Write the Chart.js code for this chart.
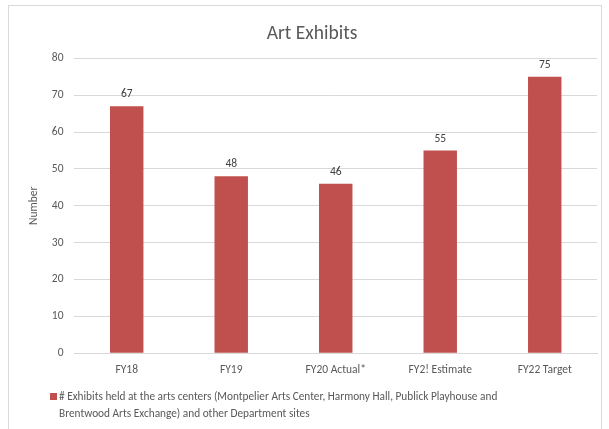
<!DOCTYPE html>
<html>
<head>
<meta charset="utf-8">
<script src="https://cdn.jsdelivr.net/npm/chart.js@4"></script>
<style>
    html, body { margin: 0; padding: 0; background: #fff; }
    #wrap { position: relative; width: 609px; height: 429px; }
    #frame { position: absolute; left: 8px; top: 5px; width: 594px; height: 440px; border: 1px solid #d9d9d9; box-sizing: border-box; }
    canvas { position: absolute; left: 0; top: 0; }
</style>
</head>
<body>
<div id="wrap">
    <div id="frame"></div>
    <canvas id="chart" width="609" height="429"></canvas>
</div>
<script>
const categories = ['FY18', 'FY19', 'FY20 Actual*', 'FY2! Estimate', 'FY22 Target'];
const exhibits = [67, 48, 46, 55, 75];
const seriesLines = [
    '# Exhibits held at the arts centers (Montpelier Arts Center, Harmony Hall, Publick Playhouse and',
    'Brentwood Arts Exchange) and other Department sites'
];

const FONT = 'Calibri, Carlito, Lato, sans-serif';
const GREY = '#595959';
const BAR = '#c0504d';

// value labels above bars
const valueLabels = {
    id: 'valueLabels',
    afterDatasetsDraw(chart) {
        const ctx = chart.ctx;
        const meta = chart.getDatasetMeta(0);
        ctx.save();
        ctx.font = '11.5px ' + FONT;
        ctx.fillStyle = '#404040';
        ctx.textAlign = 'center';
        ctx.textBaseline = 'bottom';
        meta.data.forEach((bar, i) => {
            ctx.fillText(chart.data.datasets[0].data[i], bar.x, bar.y - 6);
        });
        ctx.restore();
    }
};

// legend with wrapped text at the bottom
const wrappedLegend = {
    id: 'wrappedLegend',
    afterDraw(chart) {
        const ctx = chart.ctx;
        ctx.save();
        ctx.fillStyle = BAR;
        ctx.fillRect(50, 393, 7, 7);
        ctx.font = '11.3px ' + FONT;
        ctx.fillStyle = GREY;
        ctx.textAlign = 'left';
        ctx.textBaseline = 'middle';
        seriesLines.forEach((line, i) => {
            ctx.fillText(line, 59, 397 + i * 17);
        });
        ctx.restore();
    }
};

new Chart(document.getElementById('chart'), {
    type: 'bar',
    data: {
        labels: categories,
        datasets: [{
            label: seriesLines.join(' '),
            data: exhibits,
            backgroundColor: BAR,
            categoryPercentage: 1,
            barPercentage: 0.32
        }]
    },
    options: {
        responsive: false,
        animation: false,
        layout: { padding: { left: 27, right: 12, top: 20, bottom: 50 } },
        plugins: {
            legend: { display: false },
            tooltip: { enabled: false },
            title: {
                display: true,
                text: 'Art Exhibits',
                color: GREY,
                font: { family: FONT, size: 19.5, weight: 'normal' },
                padding: { top: 2, bottom: 13 }
            }
        },
        scales: {
            x: {
                grid: { display: false },
                border: { color: '#d9d9d9' },
                ticks: { color: GREY, font: { family: FONT, size: 11.5 }, padding: 2 }
            },
            y: {
                min: 0,
                max: 80,
                ticks: { stepSize: 10, color: GREY, font: { family: FONT, size: 11.5 }, padding: 11 },
                grid: { color: '#d9d9d9', drawTicks: false },
                border: { display: false },
                title: {
                    display: true,
                    text: 'Number',
                    color: GREY,
                    font: { family: FONT, size: 11.5 },
                    padding: 0
                }
            }
        }
    },
    plugins: [valueLabels, wrappedLegend]
});
</script>
</body>
</html>
